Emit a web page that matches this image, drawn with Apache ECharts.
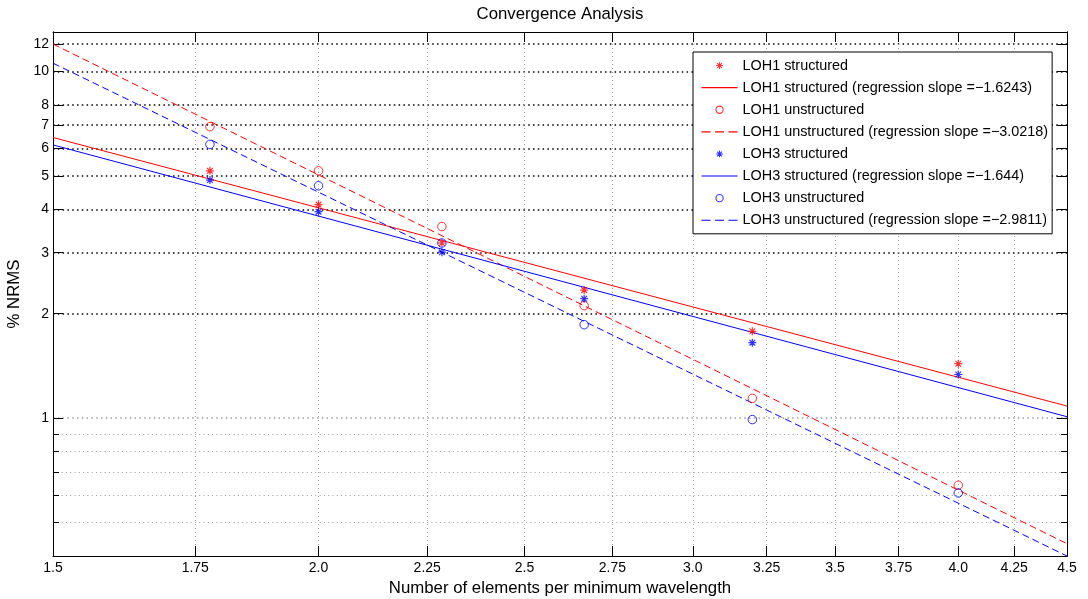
<!DOCTYPE html>
<html><head><meta charset="utf-8">
<script src="https://cdn.jsdelivr.net/npm/echarts@6/dist/echarts.min.js"></script>
<style>html,body{margin:0;padding:0;background:#fff}#c{width:1088px;height:599px}</style>
</head><body><div id="c"></div>
<script>
// ---- data ----
const xValues          = [1.778, 2.0, 2.286, 2.667, 3.2, 4.0];
const loh1Structured   = [5.17, 4.13, 3.20, 2.34, 1.78, 1.435];
const loh1Unstructured = [6.93, 5.17, 3.57, 2.11, 1.14, 0.64];
const loh3Structured   = [4.86, 3.94, 3.01, 2.21, 1.65, 1.336];
const loh3Unstructured = [6.16, 4.68, 3.20, 1.86, 0.99, 0.608];

const fitX                = [1.5, 4.5];
const loh1StructuredFit   = [6.45, 1.083];
const loh1UnstructuredFit = [12.0, 0.434];
const loh3StructuredFit   = [6.14, 1.009];
const loh3UnstructuredFit = [10.57, 0.40];

const xTicks      = [1.5, 1.75, 2.0, 2.25, 2.5, 2.75, 3.0, 3.25, 3.5, 3.75, 4.0, 4.25, 4.5];
const xTickLabels = ['1.5', '1.75', '2.0', '2.25', '2.5', '2.75', '3.0', '3.25', '3.5', '3.75', '4.0', '4.25', '4.5'];
const yTicks      = [1, 2, 3, 4, 5, 6, 7, 8, 10, 12];
const yTickLabels = ['1', '2', '3', '4', '5', '6', '7', '8', '10', '12'];
const yMinorTicks = [0.5, 0.6, 0.7, 0.8, 0.9];

const names = [
  'LOH1 structured',
  'LOH1 structured (regression slope =\u22121.6243)',
  'LOH1 unstructured',
  'LOH1 unstructured (regression slope =\u22123.0218)',
  'LOH3 structured',
  'LOH3 structured (regression slope =\u22121.644)',
  'LOH3 unstructured',
  'LOH3 unstructured (regression slope =\u22122.9811)'
];

// ---- styling ----
const RED = '#ff0000', BLUE = '#0000ff';
const FONT = 'Liberation Sans, Arial, Helvetica, sans-serif';
const STAR = 'path://M-1,-1M1,1M0,-1L0,1M-1,0L1,0M-0.71,-0.71L0.71,0.71M-0.71,0.71L0.71,-0.71';
const CIRC = 'path://M1,0A1,1,0,1,1,-1,0A1,1,0,1,1,1,0Z';
const L_STAR = 'path://M0,0M36,14M18,3.6L18,10.4M14.6,7L21.4,7M15.6,4.6L20.4,9.4M15.6,9.4L20.4,4.6';
const L_CIRC = 'path://M0,0M36,14M21.6,7A3.6,3.6,0,1,1,14.4,7A3.6,3.6,0,1,1,21.6,7Z';
const L_LINE = 'path://M0,0M36,14M0,7L36,7';
const DASH = [7, 4];

function pts(xs, ys) { return xs.map((x, i) => [x, ys[i]]); }
function lookup(ticks, labels) {
  return v => { const i = ticks.findIndex(t => Math.abs(t - v) < 1e-6 * t); return i >= 0 ? labels[i] : ''; };
}

function scatter(name, data, sym, color, size, bw) {
  return { name, type: 'scatter', data, symbol: sym, symbolSize: size, z: 3,
    itemStyle: { color: 'rgba(0,0,0,0)', borderColor: color, borderWidth: bw },
    emphasis: { disabled: true } };
}
function fitLine(name, data, color, dashed) {
  return { name, type: 'line', data, symbol: 'none', clip: true, z: 2,
    lineStyle: { color, width: 1, type: dashed ? DASH : 'solid' },
    emphasis: { disabled: true } };
}
function legendItem(name, icon, color, dash) {
  return { name, icon, itemStyle: { color: 'rgba(0,0,0,0)', borderColor: color, borderWidth: 1.1, borderType: dash || 'solid' } };
}

const baseY = { type: 'log', logBase: 10, min: 0.4, max: 13, gridIndex: 0 };
const baseX = { type: 'log', logBase: 10, min: 1.5, max: 4.5, gridIndex: 0 };
const axisLine = { show: true, lineStyle: { color: '#000', width: 1 } };

const option = {
  animation: false,
  backgroundColor: '#fff',
  textStyle: { fontFamily: FONT, color: '#000' },
  title: {
    text: 'Convergence Analysis', left: 560, top: 6, padding: 0, textAlign: 'center',
    textStyle: { fontSize: 16.8, fontWeight: 'normal', color: '#000', fontFamily: FONT }
  },
  grid: { left: 53, right: 21, top: 32, bottom: 43, containLabel: false, outerBoundsMode: 'none' },
  xAxis: [
    Object.assign({}, baseX, {
      position: 'bottom',
      name: 'Number of elements per minimum wavelength', nameLocation: 'middle', nameGap: 21,
      nameTextStyle: { fontSize: 16.8, color: '#000', fontFamily: FONT },
      axisLine,
      axisTick: { show: true, inside: true, length: 10, customValues: xTicks, lineStyle: { color: '#000' } },
      axisLabel: { show: true, customValues: xTicks, margin: 5, fontSize: 14, color: '#000', fontFamily: FONT,
        formatter: lookup(xTicks, xTickLabels) },
      splitLine: { show: true, lineStyle: { color: '#a0a0a0', width: 1, type: [1, 3] } }
    }),
    Object.assign({}, baseX, {
      position: 'top', axisLine,
      axisTick: { show: true, inside: true, length: 10, customValues: xTicks, lineStyle: { color: '#000' } },
      axisLabel: { show: false }, splitLine: { show: false }
    })
  ],
  yAxis: [
    Object.assign({}, baseY, {
      position: 'left',
      name: '% NRMS', nameLocation: 'middle', nameGap: 24.5,
      nameTextStyle: { fontSize: 16.8, color: '#000', fontFamily: FONT },
      axisLine,
      axisTick: { show: true, inside: true, length: 10, customValues: yTicks, lineStyle: { color: '#000' } },
      axisLabel: { show: true, customValues: yTicks, margin: 4, fontSize: 14, color: '#000', fontFamily: FONT,
        formatter: lookup(yTicks, yTickLabels) },
      splitLine: { show: true, lineStyle: {
        color: ['#9a9a9a', '#000', '#000', '#000', '#000', '#000', '#000', '#000', '#000', '#000'],
        width: 1.5, type: [1.5, 3.3] } }
    }),
    Object.assign({}, baseY, {
      position: 'left', axisLine,
      axisTick: { show: true, inside: true, length: 6, customValues: yMinorTicks, lineStyle: { color: '#000' } },
      axisLabel: { show: false },
      splitLine: { show: true, lineStyle: { color: '#9a9a9a', width: 1, type: [1, 3.3] } }
    }),
    Object.assign({}, baseY, {
      position: 'right', axisLine,
      axisTick: { show: true, inside: true, length: 10, customValues: yTicks, lineStyle: { color: '#000' } },
      axisLabel: { show: false }, splitLine: { show: false }
    }),
    Object.assign({}, baseY, {
      position: 'right', axisLine,
      axisTick: { show: true, inside: true, length: 6, customValues: yMinorTicks, lineStyle: { color: '#000' } },
      axisLabel: { show: false }, splitLine: { show: false }
    })
  ],
  legend: {
    orient: 'vertical', left: 693, top: 52, padding: [6, 4, 6, 8],
    itemWidth: 36, itemHeight: 14, itemGap: 7, itemTextGap: 5,
    backgroundColor: '#fff', borderColor: '#000', borderWidth: 1, borderRadius: 0,
    selectedMode: false,
    textStyle: { fontSize: 14.4, color: '#000', fontFamily: FONT },
    data: [
      legendItem(names[0], L_STAR, RED),
      legendItem(names[1], L_LINE, RED),
      legendItem(names[2], L_CIRC, RED),
      legendItem(names[3], L_LINE, RED, [9, 4.5]),
      legendItem(names[4], L_STAR, BLUE),
      legendItem(names[5], L_LINE, BLUE),
      legendItem(names[6], L_CIRC, BLUE),
      legendItem(names[7], L_LINE, BLUE, [9, 4.5])
    ]
  },
  series: [
    scatter(names[0], pts(xValues, loh1Structured), STAR, RED, 8, 1.2),
    fitLine(names[1], pts(fitX, loh1StructuredFit), RED, false),
    scatter(names[2], pts(xValues, loh1Unstructured), CIRC, RED, 8.5, 1),
    fitLine(names[3], pts(fitX, loh1UnstructuredFit), RED, true),
    scatter(names[4], pts(xValues, loh3Structured), STAR, BLUE, 8, 1.2),
    fitLine(names[5], pts(fitX, loh3StructuredFit), BLUE, false),
    scatter(names[6], pts(xValues, loh3Unstructured), CIRC, BLUE, 8.5, 1),
    fitLine(names[7], pts(fitX, loh3UnstructuredFit), BLUE, true)
  ]
};

const chart = echarts.init(document.getElementById('c'), null, { renderer: 'canvas' });
chart.setOption(option);
</script>
</body></html>
